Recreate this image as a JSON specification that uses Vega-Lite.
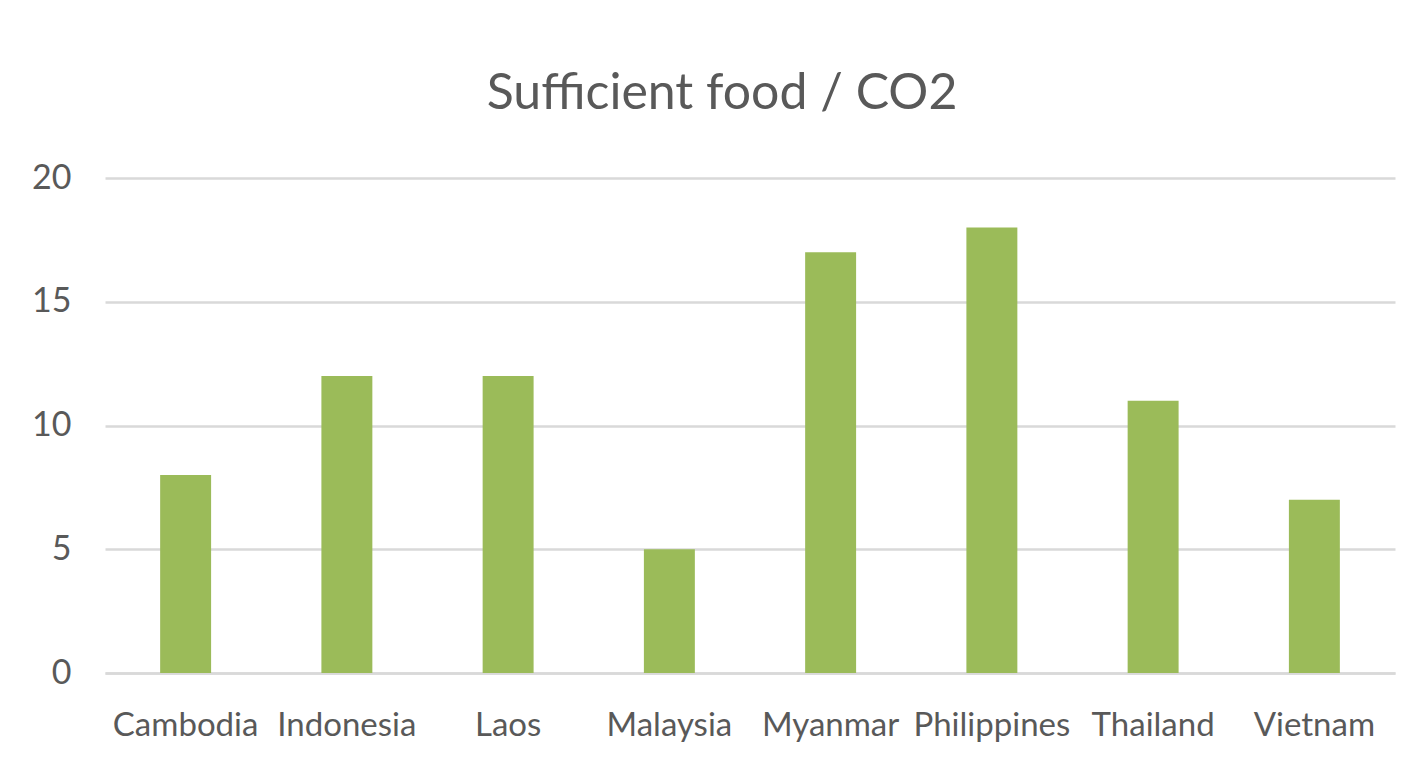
{
  "$schema": "https://vega.github.io/schema/vega-lite/v6.json",
  "width": 1290,
  "height": 495,
  "autosize": {"type": "none"},
  "padding": {"left": 105, "top": 178, "right": 28, "bottom": 101},
  "background": "#ffffff",
  "title": {
    "text": "Sufficient food / CO2",
    "font": "Lato",
    "fontSize": 50,
    "fontWeight": "normal",
    "color": "#595959",
    "anchor": "middle",
    "dx": -28,
    "offset": 42
  },
  "data": {
    "values": [
      {"country": "Cambodia", "value": 8},
      {"country": "Indonesia", "value": 12},
      {"country": "Laos", "value": 12},
      {"country": "Malaysia", "value": 5},
      {"country": "Myanmar", "value": 17},
      {"country": "Philippines", "value": 18},
      {"country": "Thailand", "value": 11},
      {"country": "Vietnam", "value": 7}
    ]
  },
  "mark": {"type": "bar", "color": "#9BBB59"},
  "encoding": {
    "x": {
      "field": "country",
      "type": "nominal",
      "sort": null,
      "scale": {"paddingInner": 0.684, "paddingOuter": 0.342},
      "axis": {
        "title": null,
        "labelAngle": 0,
        "labelFont": "Lato",
        "labelFontSize": 33,
        "labelColor": "#595959",
        "labelPadding": 36,
        "ticks": false,
        "domainColor": "#d9d9d9",
        "domainWidth": 2.5,
        "grid": false
      }
    },
    "y": {
      "field": "value",
      "type": "quantitative",
      "scale": {"domain": [0, 20]},
      "axis": {
        "title": null,
        "values": [0, 5, 10, 15, 20],
        "labelFont": "Lato",
        "labelFontSize": 34,
        "labelColor": "#595959",
        "labelPadding": 34,
        "ticks": false,
        "domain": false,
        "grid": true,
        "gridColor": "#d9d9d9",
        "gridWidth": 2.5
      }
    }
  },
  "config": {"view": {"stroke": null}}
}
